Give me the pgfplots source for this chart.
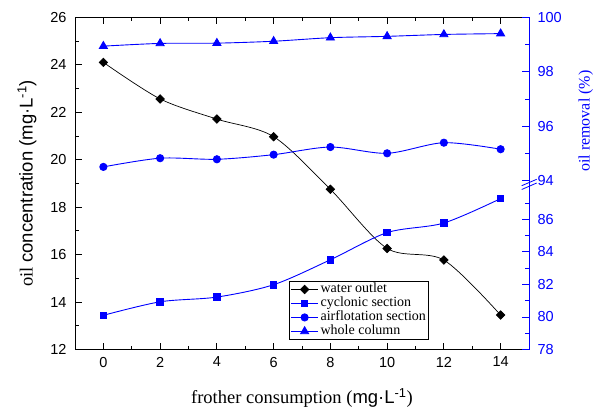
\documentclass[border=0pt]{standalone}
\usepackage{fontspec}
\setmainfont{Liberation Serif}
\setsansfont{Liberation Sans}
\usepackage{pgfplots}
\usepackage{pgfplotstable}
\pgfplotsset{compat=1.18}

\pgfplotstableread{
x water cyclonic airflot whole
0 24.10 80.10 94.50 98.94
2 22.56 80.93 94.82 99.04
4 21.71 81.22 94.78 99.05
6 20.97 81.98 94.95 99.12
8 18.75 83.51 95.23 99.25
10 16.26 85.18 95.00 99.30
12 15.77 85.77 95.39 99.37
14 13.45 87.27 95.15 99.40
}\datatable

\pgfplotsset{
  common/.style={
    scale only axis, width=454bp, xmin=-1, xmax=15,
    tick align=inside, major tick length=7bp, minor tick length=4bp,
    tick label style={font=\fontsize{14.5bp}{17bp}\selectfont\sffamily},
    /pgf/number format/assume math mode=true,
  },
  wstyle/.style={black, line width=0.7bp, mark=square*, mark size=3bp, mark options={rotate=45, solid, fill=black}},
  cstyle/.style={blue, line width=0.9bp, mark=square*, mark size=3.3bp, mark options={solid, fill=blue}},
  astyle/.style={blue, line width=0.9bp, mark=*, mark size=3.6bp, mark options={solid, fill=blue}},
  tstyle/.style={blue, line width=0.9bp, mark=triangle*, mark size=4.6bp, mark options={solid, fill=blue}},
}

\begin{document}
\begin{tikzpicture}
\path[use as bounding box] (-75bp,-59.5bp) rectangle (522bp,349.5bp);

% left axis
\begin{axis}[common, at={(0,0)}, anchor=south west, height=332.2bp,
  ymin=12, ymax=26,
  xtick={0,2,...,14}, minor x tick num=1,
  ytick={12,14,...,26}, minor y tick num=1,
  ytick pos=left, xtick pos=both,
  axis line style={black, line width=0.8bp},
  tick style={black, line width=0.8bp},
  xticklabel style={yshift=-4bp},
  yticklabel style={xshift=-5bp},
  xlabel={frother consumption ({\sffamily mg·L\textsuperscript{-1}})},
  xlabel style={font=\fontsize{18.5bp}{22bp}\selectfont, at={(axis description cs:0.5,-0.164)}, anchor=base},
  ylabel={oil {\sffamily concentration (mg·L\textsuperscript{-1})}},
  ylabel style={font=\fontsize{18.5bp}{22bp}\selectfont, at={(axis description cs:-0.106,0.5)}, anchor=center},
]
\addplot[wstyle, smooth] table[x=x, y=water]{\datatable};
\end{axis}

% right lower axis
\begin{axis}[common, at={(0,0)}, anchor=south west, height=162.8bp,
  ymin=78, ymax=88,
  axis x line=none, axis y line*=right,
  ytick={78,80,82,84,86}, minor ytick={79,81,83,85,87},
  y axis line style={blue, line width=0.8bp},
  tick style={blue, line width=0.8bp},
  yticklabel style={blue, xshift=5bp},
]
\addplot[cstyle, smooth] table[x=x, y=cyclonic]{\datatable};
\end{axis}

% right upper axis
\begin{axis}[common, at={(0,169bp)}, anchor=south west, height=163.2bp,
  ymin=94, ymax=100, clip=false,
  axis x line=none, axis y line*=right,
  ytick={94,96,98,100}, minor ytick={95,97,99},
  y axis line style={blue, line width=0.8bp},
  tick style={blue, line width=0.8bp},
  yticklabel style={blue, xshift=5bp},
  legend style={at={(0.472,-0.616)}, anchor=north west, draw=black, line width=0.8bp, fill=white,
    inner sep=1bp, row sep=0pt, column sep=1bp,
    font=\fontsize{14bp}{14bp}\selectfont,
    nodes={inner sep=1bp, text height=9.3bp, text depth=2.7bp}},
  legend cell align=left,
  legend image code/.code={\draw[mark repeat=2,mark phase=2] plot coordinates {(0bp,0bp) (13.5bp,0bp) (27bp,0bp)};},
]
\addlegendimage{wstyle}
\addlegendentry{water outlet}
\addlegendimage{cstyle}
\addlegendentry{cyclonic section}
\addplot[astyle, smooth] table[x=x, y=airflot]{\datatable};
\addlegendentry{airflotation section}
\addplot[tstyle, smooth] table[x=x, y=whole]{\datatable};
\addlegendentry{whole column}
\draw[blue, line width=0.8bp] (rel axis cs:1,0) -- ++(0bp,-6.5bp);
\draw[blue, line width=0.8bp] ([xshift=-7.3bp,yshift=-5.2bp]rel axis cs:1,0) -- ++(15bp,6.4bp);
\draw[blue, line width=0.8bp] ([xshift=-7.3bp,yshift=-9bp]rel axis cs:1,0) -- ++(15bp,6.5bp);
\node[blue, rotate=90, font=\fontsize{16bp}{19bp}\selectfont] at ([xshift=-5.5bp,yshift=-22.3bp]rel axis cs:1.137,0.5) {oil removal (\%)};
\end{axis}
\end{tikzpicture}
\end{document}
